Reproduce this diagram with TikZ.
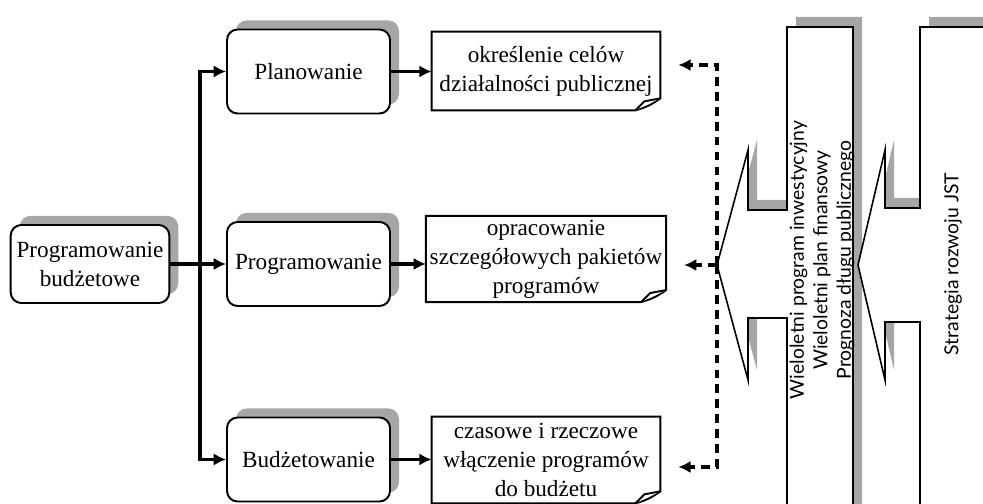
\documentclass[tikz,border=0pt]{standalone}
\usepackage{fontspec}
\setmainfont{Liberation Serif}
\newfontfamily\callfont{Lato}
\usetikzlibrary{arrows.meta,shadows,backgrounds}

\tikzset{
  stage/.style={draw, line width=1.1pt, rounded corners=6pt, fill=white, minimum width=3.26cm,
    minimum height=1.68cm, align=center,
    general shadow={fill=gray!70, shadow xshift=0.18cm, shadow yshift=0.18cm}},
  task/.style={minimum width=4.56cm, align=center, inner sep=2pt},
  flow/.style={->, line width=1.9pt},
  feed/.style={->, line width=2.1pt, dash pattern=on 5pt off 3.5pt, shorten >=0.36cm},
  callout/.style={line width=0.9pt, fill=white,
    general shadow={fill=gray!70, shadow xshift=0.18cm, shadow yshift=0.2cm}},
  calltext/.style={rotate=90, align=center, font=\callfont\fontsize{11}{13.4}\selectfont},
}

\begin{document}
\begin{tikzpicture}[>={Latex[length=7pt,width=7pt]}, font=\fontsize{13.2}{16.5}\selectfont]

    \useasboundingbox (0,0) rectangle (19.66,10.08);
    \clip (0,0) rectangle (19.66,10.08);

    % Nodes
    \node[stage, minimum width=3.12cm, minimum height=1.56cm] at (1.80, 4.80) (budz) {Programowanie\\budżetowe};
    \node[stage] at (6.17, 8.65) (plan) {Planowanie};
    \node[stage] at (6.17, 4.80) (prog) {Programowanie};
    \node[stage] at (6.17, 0.89) (budzet) {Budżetowanie};

    \node[task, minimum height=1.56cm] at (10.92, 8.66) (doc1) {określenie celów\\działalności publicznej};
    \node[task, minimum height=1.64cm] at (10.92, 4.90) (doc2) {opracowanie\\szczegółowych pakietów\\programów};
    \node[task, minimum height=1.72cm] at (10.92, 0.88) (doc3) {czasowe i rzeczowe\\włączenie programów\\do budżetu};

    % Document shapes with folded corner
    \begin{scope}[on background layer]
    \foreach \d in {doc1, doc2, doc3} {
        \fill[gray!70, shift={(0.2,0.2)}] (\d.south west) |- (\d.north east)
            -- ([yshift=0.24cm]\d.south east) -- ([xshift=-0.5cm]\d.south east) -- cycle;
        \draw[line width=1.1pt, fill=white] (\d.south west) |- (\d.north east)
            -- ([yshift=0.24cm]\d.south east) to[bend left=10] ([xshift=-0.5cm]\d.south east) -- cycle;
        \draw[line width=1.1pt, fill=white] ([xshift=-0.5cm]\d.south east) -- ([xshift=-0.32cm, yshift=0.18cm]\d.south east)
            -- ([yshift=0.24cm]\d.south east);
    }
    \end{scope}

    % Callouts
    \draw[callout] (15.74,-0.3) -- (15.74,3.72) -- (14.96,3.72) -- (14.96,2.48)
        -- (14.34,4.78) coordinate (tip) -- (14.96,7.08) -- (14.96,5.88) -- (15.74,5.88)
        -- (15.74,9.54) -- (17.06,9.54) -- (17.06,-0.3) -- cycle;
    \draw[callout] (18.40,-0.3) -- (18.40,3.64) -- (17.70,3.64) -- (17.70,2.48)
        -- (17.16,4.78) coordinate (tip2) -- (17.70,7.08) -- (17.70,5.92) -- (18.40,5.92)
        -- (18.40,9.54) -- (20.2,9.54) -- (20.2,-0.3) -- cycle;

    \node[calltext] at (16.44, 4.88) (wpi) {Wieloletni program inwestycyjny\\Wieloletni plan finansowy\\Prognoza długu publicznego};
    \node[calltext] at (19.06, 4.80) (sr) {Strategia rozwoju JST};

    % Arrows
    \coordinate (fork) at (4.0, 4.80);
    \draw[flow] (budz.east) -- (prog.west);
    \draw[flow] (fork) |- (plan.west);
    \draw[flow] (fork) |- (budzet.west);
    \draw[flow] (plan.east) -- (plan.east -| doc1.west);
    \draw[flow] (prog.east) -- (prog.east -| doc2.west);
    \draw[flow] (budzet.east) -- (budzet.east -| doc3.west);

    % Dashed feedback
    \draw[feed] (tip) |- ([yshift=0.12cm]doc1.east);
    \draw[feed] (tip) -- (tip -| doc2.east);
    \draw[feed] (tip) |- ([yshift=-0.14cm]doc3.east);

\end{tikzpicture}
\end{document}
